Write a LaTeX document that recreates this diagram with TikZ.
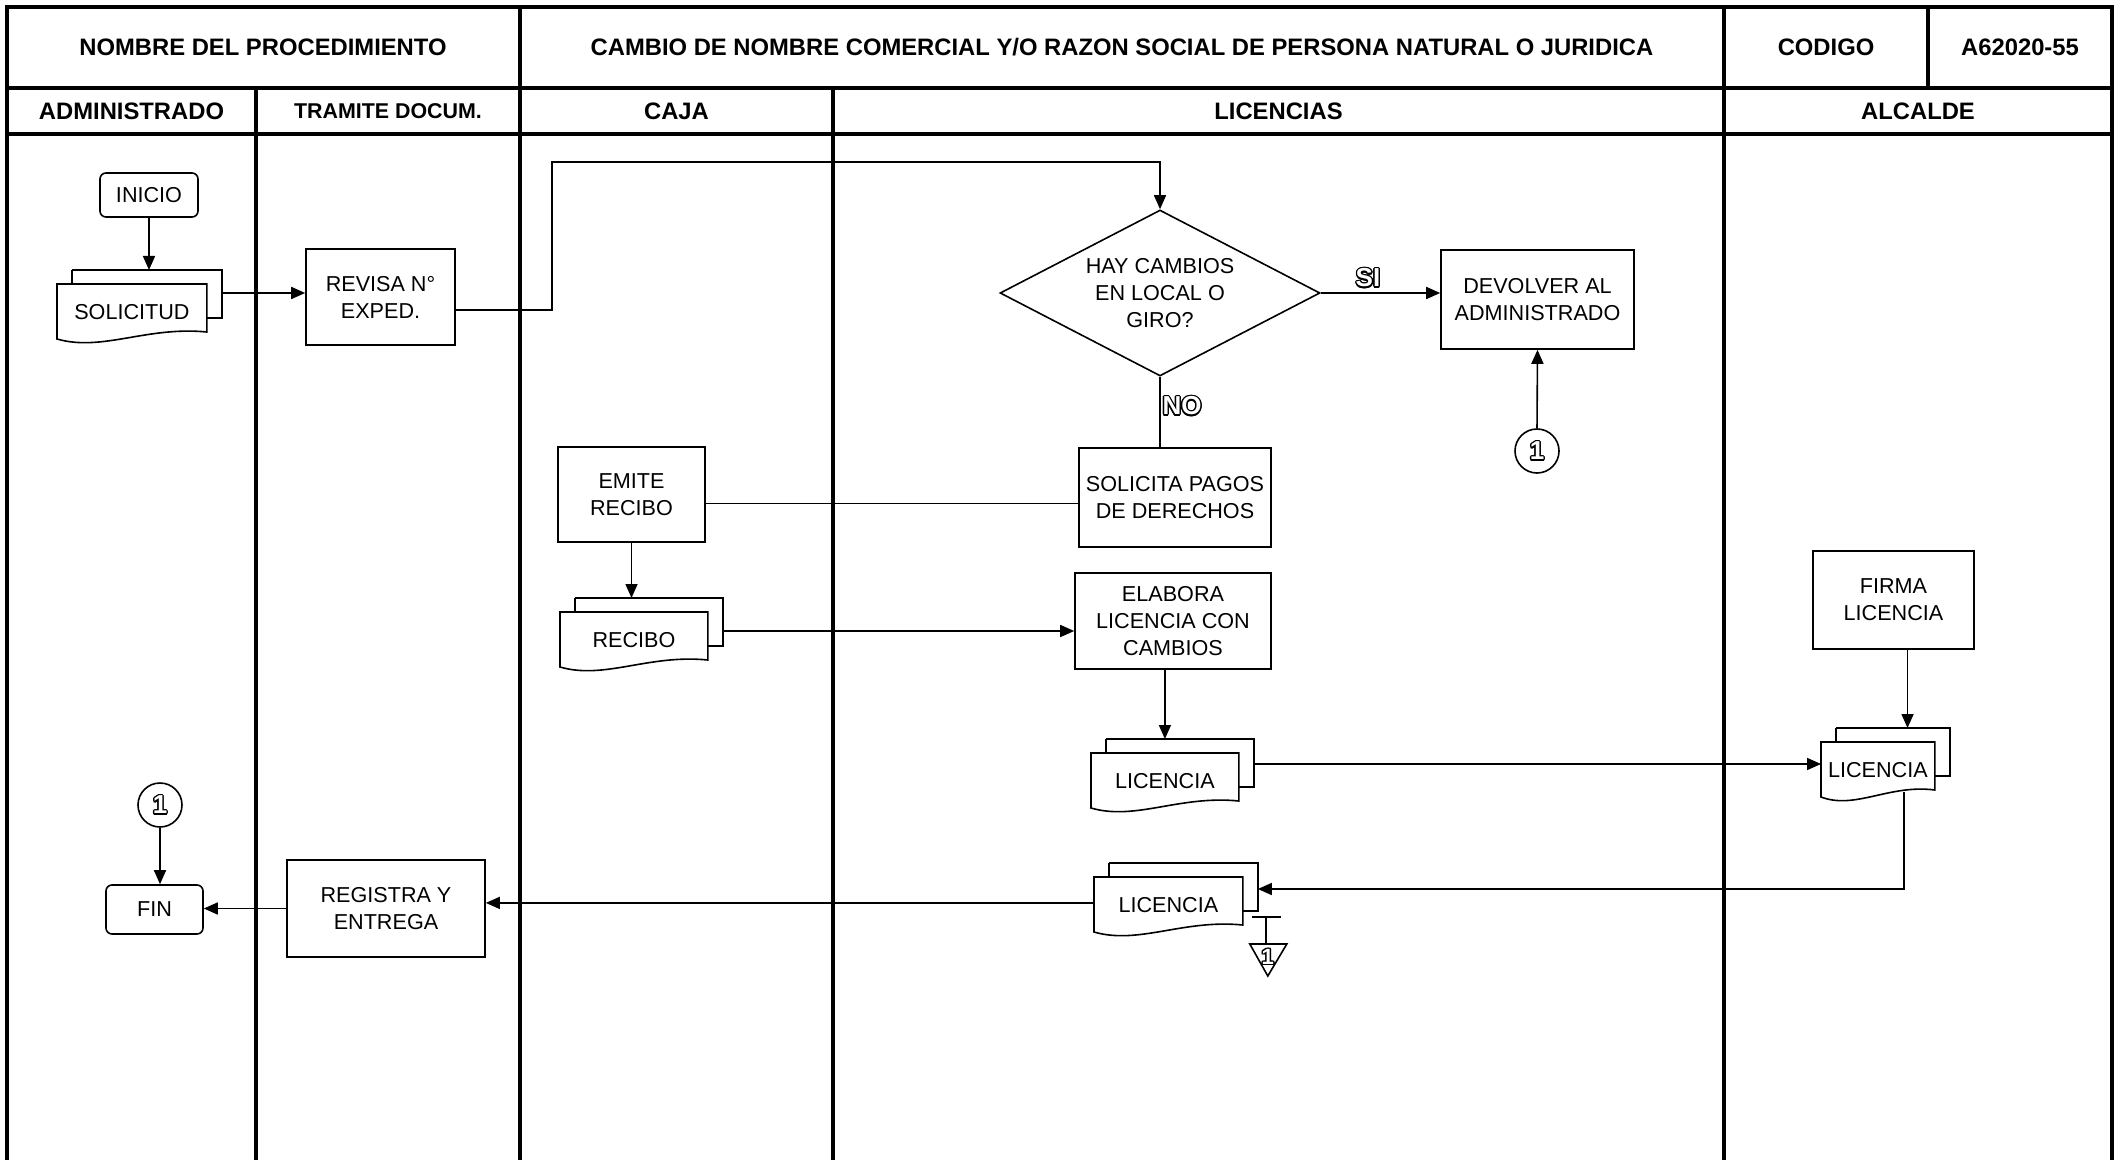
\documentclass[tikz,border=0pt]{standalone}
\usepackage{fontspec}
\setmainfont{Liberation Sans}
\usetikzlibrary{shapes.geometric,arrows.meta,calc}

\newcommand\boxfont{\fontsize{10.8pt}{13.5pt}\selectfont}
\newcommand\hdfont{\bfseries\fontsize{11.9pt}{13pt}\selectfont}

\newcommand\outlined[4]{%
  \foreach \ang in {0,30,...,330}{%
    \node[font=\bfseries\fontsize{#3pt}{#3pt}\selectfont, text=black, inner sep=0pt] at ($(#2)+(\ang:1.4)$) {#4};}
  \node[font=\bfseries\fontsize{#3pt}{#3pt}\selectfont, text=white, inner sep=0pt] (#1) at (#2) {#4};
}

\newcommand\docshape[1]{%
  \coordinate (#1-bnw) at ([shift={(15,-14)}]#1.north west);
  \coordinate (#1-bne) at ([shift={(15,-14)}]#1.north east);
  \coordinate (#1-bse) at ([shift={(15,34)}]#1.north east);
  \draw[shapeline] (#1-bnw) -- (#1-bne) -- (#1-bse) -- ([shift={(0,34)}]#1.north east);
  \draw[shapeline] (#1-bnw) -- ([shift={(15,0)}]#1.north west);
  \draw[shapeline] (#1.north west) -- (#1.north east) -- ([shift={(0,48)}]#1.north east)
     .. controls ($(#1.north west)!0.6!(#1.north east)+(0,42)$) and ($(#1.north west)!0.3!(#1.north east)+(0,68)$) .. ([shift={(0,55)}]#1.north west) -- cycle;
}

\tikzset{
  shapeline/.style={line width=0.8pt, line join=miter},
  lane/.style={line width=2.2pt},
  hd/.style={font=\hdfont, inner sep=0pt},
  proc/.style={draw, shapeline, rectangle, align=center, font=\boxfont, inner sep=2pt},
  term/.style={proc, rounded corners=3pt},
  docf/.style={draw=none, inner sep=0pt, minimum height=27.5pt, anchor=north west, font=\boxfont, align=center},
  decision/.style={draw, shapeline, diamond, shape aspect=2, inner sep=0pt, minimum width=160pt, minimum height=83pt, align=center, font=\boxfont},
  conncircle/.style={draw, shapeline, circle, minimum size=22pt, inner sep=0pt},
  conn/.style={line width=0.8pt},
  arr/.style={conn, -{Triangle[length=7pt,width=6pt]}}
}

\begin{document}
\begin{tikzpicture}[x=0.5pt, y=-0.5pt]
\useasboundingbox (0,0) rectangle (2123,1160);
\fill[white] (0,0) rectangle (2123,1160);

% ---- table / lanes ----
\draw[lane] (2112,1162) -- (2112,7) -- (7,7) -- (7,1162);
\draw[lane] (7,88) -- (2112,88);
\draw[lane] (7,134) -- (2112,134);
\draw[lane] (256,88) -- (256,1162);
\draw[lane] (520,7) -- (520,1162);
\draw[lane] (833,88) -- (833,1162);
\draw[lane] (1724,7) -- (1724,1162);
\draw[lane] (1928,7) -- (1928,88);

\node[hd] (hnom) at (263,47) {NOMBRE DEL PROCEDIMIENTO};
\node[hd] (htit) at (1122,47) {CAMBIO DE NOMBRE COMERCIAL Y/O RAZON SOCIAL DE PERSONA NATURAL O JURIDICA};
\node[hd] (hcod) at (1826,47) {CODIGO};
\node[hd] (hcodv) at (2020,47) {A62020-55};
\node[hd] (hadm) at (131.5,111) {ADMINISTRADO};
\node[hd, font=\bfseries\fontsize{10.7pt}{12pt}\selectfont] (htra) at (388,111) {TRAMITE DOCUM.};
\node[hd] (hcaj) at (676.5,111) {CAJA};
\node[hd] (hlic) at (1278.5,111) {LICENCIAS};
\node[hd] (halc) at (1918,111) {ALCALDE};

% ---- nodes ----
\node[term, minimum width=49pt, minimum height=22pt] (ini) at (149,195) {INICIO};
\node[docf, minimum width=74.5pt] (sol) at (57,284) {SOLICITUD};
\docshape{sol}
\node[proc, minimum width=74.5pt, minimum height=48pt] (rev) at (380.5,297) {REVISA N°\\EXPED.};
\node[decision] (dia) at (1160,293) {HAY CAMBIOS\\EN LOCAL O\\GIRO?};
\node[proc, minimum width=96.5pt, minimum height=49.5pt] (dev) at (1537.5,299.5) {DEVOLVER AL\\ADMINISTRADO};
\node[conncircle] (c1) at (1537,451) {};
\node[proc, minimum width=96pt, minimum height=49.5pt] (pag) at (1175,497.5) {SOLICITA PAGOS\\DE DERECHOS};
\node[proc, minimum width=73.5pt, minimum height=47.5pt] (emi) at (631.5,494.5) {EMITE\\RECIBO};
\node[docf, minimum width=73.5pt] (rec) at (560,612) {RECIBO};
\docshape{rec}
\node[proc, minimum width=98pt, minimum height=48pt] (ela) at (1173,621) {ELABORA\\LICENCIA CON\\CAMBIOS};
\node[docf, minimum width=73.5pt] (lic1) at (1091,753) {LICENCIA};
\docshape{lic1}
\node[proc, minimum width=80.5pt, minimum height=49pt] (fir) at (1893.5,600) {FIRMA\\LICENCIA};
\node[docf, minimum width=56.5pt] (lic2) at (1821,742) {LICENCIA};
\docshape{lic2}
\node[docf, minimum width=74pt] (lic3) at (1094,877) {LICENCIA};
\docshape{lic3}
\node[proc, minimum width=99pt, minimum height=48.5pt] (reg) at (386,908.5) {REGISTRA Y\\ENTREGA};
\node[term, minimum width=48.5pt, minimum height=24.5pt] (fin) at (154.5,909.5) {FIN};
\node[conncircle] (c2) at (160,805) {};

% ---- connectors ----
\draw[arr] (ini.south) -- (ini.south |- sol-bnw);
\draw[arr] ([shift={(0,-4)}]sol-bne |- rev.west) -- ([shift={(0,-4)}]rev.west);
\coordinate (revup) at (552,162);
\draw[arr] ([shift={(0,13)}]rev.east) -| (revup) -| (dia.north);
\draw[arr] (dia.east) -- (dia.east -| dev.west);
\draw[arr] (c1.north) -- (dev.south);
\draw[conn] (dia.south) -- (dia.south |- pag.north);
\draw[conn] ([shift={(0,6)}]pag.west) -- ([shift={(0,6)}]pag.west -| emi.east);
\draw[arr] (emi.south) -- (emi.south |- rec-bnw);
\draw[arr] ([shift={(0,33)}]rec-bne) -- ([shift={(0,33)}]rec-bne -| ela.west);
\draw[arr] (lic1.north |- ela.south) -- (lic1.north |- lic1-bnw);
\draw[arr] ([shift={(0,25)}]lic1-bne) -- ([shift={(0,25)}]lic1-bne -| lic2.west);
\draw[arr] ([xshift=7pt]fir.south) -- ([xshift=7pt]fir.south |- lic2-bnw);
\draw[arr] ([shift={(83,50)}]lic2.north west) |- ([shift={(0,26)}]lic3-bne);
\draw[arr] ([shift={(0,-2)}]lic3.west) -- ([shift={(0,-2)}]lic3.west -| reg.east);
\draw[arr] (reg.west) -- (reg.west -| fin.east);
\draw[arr] (c2.south) -- (c2.south |- fin.north);

% ---- T and off-page connector ----
\coordinate (tt) at ([shift={(8,6)}]lic3-bse);
\draw[conn] ([shift={(-14,0)}]tt) -- ([shift={(15,0)}]tt);
\draw[conn] (tt) -- ([shift={(0,27)}]tt);
\draw[shapeline] ([shift={(-16,27)}]tt) -- ([shift={(21,27)}]tt) -- ([shift={(2,59)}]tt) -- cycle;
\coordinate (trc) at ([shift={(2,40)}]tt);

% ---- outlined labels ----
\outlined{si}{1368,278}{13}{SI}
\outlined{no}{1182,406}{13}{NO}
\outlined{c1t}{c1}{13}{1}
\outlined{c2t}{c2}{13}{1}
\outlined{trt}{trc}{11}{1}
\end{tikzpicture}
\end{document}
